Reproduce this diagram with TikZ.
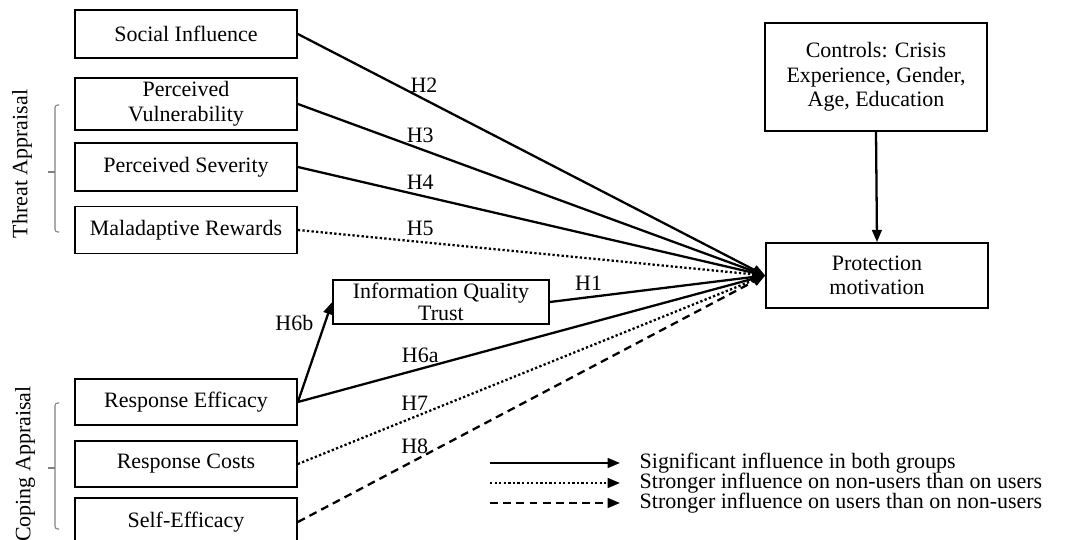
\documentclass[tikz,border=0pt]{standalone}
\usepackage{fontspec}
\setmainfont{Liberation Serif}
\usepackage{tikz}
\usetikzlibrary{arrows.meta, calc, positioning}

\begin{document}
\begin{tikzpicture}[x=0.02cm, y=-0.02cm,
  box/.style={draw, line width=1pt, align=center, minimum width=4.44cm, minimum height=0.96cm, inner sep=1pt, font=\fontsize{12.5}{14}\selectfont},
  path/.style={line width=1.3pt, -{Triangle[length=7pt,width=5.5pt]}},
  weak/.style={path, dash pattern=on 1.3pt off 1.3pt},
  usr/.style={path, dash pattern=on 4.5pt off 3pt},
  hlab/.style={font=\fontsize{12.5}{14}\selectfont, inner sep=1pt},
  legtext/.style={font=\fontsize{12.5}{14}\selectfont, inner sep=0pt},
  brace/.style={draw=gray, line width=0.6pt, rounded corners=1.5pt}]

\useasboundingbox (0,0) rectangle (1067,540);

% Predictors
\node[box] (si) at (186,34) {Social Influence};
\node[box, minimum height=1.04cm] (pv) at (186,104) {Perceived\\Vulnerability};
\node[box] (ps) at (186,167) {Perceived Severity};
\node[box, minimum height=0.94cm] (mr) at (186,230) {Maladaptive Rewards};
\node[box, minimum width=4.32cm, minimum height=0.88cm, font=\fontsize{12.5}{12.5}\selectfont] (iqt) at (441,302) {Information Quality\\Trust};
\node[box, minimum height=0.92cm] (re) at (186,402) {Response Efficacy};
\node[box, minimum height=0.92cm] (rc) at (186,464) {Response Costs};
\node[box] (se) at (186,522) {Self-Efficacy};

% Outcome and controls
\node[box, minimum height=2.16cm] (ctrl) at (876,77) {Controls: Crisis\\Experience, Gender,\\Age, Education};
\node[box, minimum height=1.3cm] (pm) at (877,275.5) {Protection\\motivation};

% Hypotheses
\draw[path] (si.east) -- node[hlab, pos=0.27, above=2pt] {H2} (pm.west);
\draw[path] (pv.east) -- node[hlab, pos=0.262, above=2pt] {H3} (pm.west);
\draw[path] (ps.east) -- node[hlab, pos=0.262, above=2pt] {H4} (pm.west);
\draw[weak] (mr.east) -- node[hlab, pos=0.262, above=2pt] {H5} (pm.west);
\draw[path] (iqt.east) -- node[hlab, pos=0.18, above=2pt] {H1} (pm.west);
\draw[path] (re.east) -- node[hlab, pos=0.79, left=5pt] {H6b} (iqt.west);
\draw[path] (re.east) -- node[hlab, pos=0.262, above=2pt] {H6a} (pm.west);
\draw[weak] (rc.east) -- node[hlab, pos=0.25, above=2pt] {H7} (pm.west);
\draw[usr] (se.east) -- node[hlab, pos=0.25, above=2pt] {H8} (pm.west);
\draw[path] (ctrl.south) -- (pm.north);

% Groups
\draw[brace] (59,105) -- (55,105) -- (55,232) -- (59,232);
\draw[brace] (55,172) -- (48,172);
\node[hlab, rotate=90] (threat) at (22,164) {Threat Appraisal};
\draw[brace] (59,403) -- (55,403) -- (55,529) -- (59,529);
\draw[brace] (55,468) -- (48,468);
\node[hlab, rotate=90] (coping) at (25,464) {Coping Appraisal};

% Legend
\coordinate (l1a) at (490,463); \coordinate (l1b) at (620,463);
\coordinate (l2a) at (490,483); \coordinate (l2b) at (620,483);
\coordinate (l3a) at (490,503); \coordinate (l3b) at (620,503);
\draw[path] (l1a) -- (l1b);
\draw[weak] (l2a) -- (l2b);
\draw[usr] (l3a) -- (l3b);
\node[legtext, right=11pt of l1b] (t1) {Significant influence in both groups};
\node[legtext, right=11pt of l2b] (t2) {Stronger influence on non-users than on users};
\node[legtext, right=11pt of l3b] (t3) {Stronger influence on users than on non-users};

\end{tikzpicture}
\end{document}
